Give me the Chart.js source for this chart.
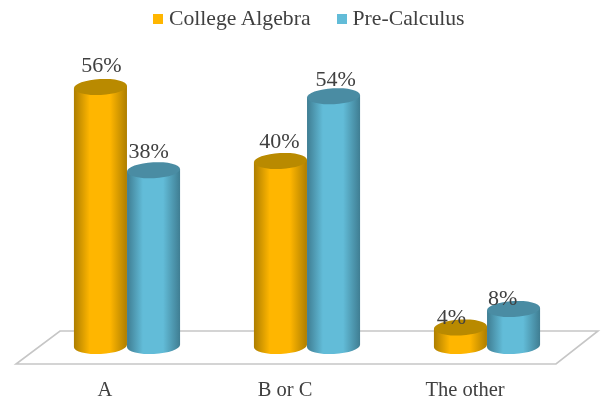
<!DOCTYPE html>
<html>
<head>
<meta charset="utf-8">
<title>Course placement</title>
<script src="https://cdn.jsdelivr.net/npm/chart.js@4"></script>
<style>
  html, body { margin: 0; padding: 0; background: #fff; }
  #wrap { position: relative; width: 602px; height: 400px; overflow: hidden; }
  #leyenda {
    position: absolute; left: 153px; top: 6px; display: flex; align-items: center;
    font: 21.7px "Liberation Serif", serif; color: #404040; white-space: nowrap;
  }
  #leyenda span.caja { width: 10px; height: 10px; margin-right: 6px; display: inline-block; }
  #leyenda span.texto { margin-right: 26px; }
</style>
</head>
<body>
<div id="wrap">
  <div id="leyenda"></div>
  <canvas id="grafica" width="602" height="400"></canvas>
</div>
<script>
const categorias = ["A", "B or C", "The other"];
const nombres = ["College Algebra", "Pre-Calculus"];
const collegeAlgebra = [56, 40, 4];
const preCalculus = [38, 54, 8];

// colours per series: main, edge of the body, lid
const colores = [
  { main: "#ffb600", borde: "#ad7e00", tapa: "#b98a00" },
  { main: "#62bcd8", borde: "#3f7d92", tapa: "#4a8ca3" }
];

// hand placement of the % labels, they sit off the bar centre
const corrimientoX = [[1, -1, -9], [-5, 2, -11]];
const corrimientoY = [[-21, -19, -9], [-18, -16, -10]];

const RADIO_Y = 8;
const GIRO = -0.05;

function dibujarPiso(chart) {
  const { ctx, chartArea: a } = chart;
  ctx.save();
  ctx.beginPath();
  ctx.moveTo(a.left - 21, a.bottom + 18);
  ctx.lineTo(a.right - 21, a.bottom + 18);
  ctx.lineTo(a.right + 21, a.bottom - 15);
  ctx.lineTo(a.left + 23, a.bottom - 15);
  ctx.closePath();
  ctx.strokeStyle = "#c6c6c6";
  ctx.lineWidth = 1.6;
  ctx.stroke();
  ctx.restore();
}

function dibujarCilindro(ctx, barra, color) {
  const cx = barra.x, rx = barra.width / 2;
  const arriba = barra.y, abajo = barra.base;
  const dx = rx * Math.cos(GIRO), dy = rx * Math.sin(GIRO);

  const grad = ctx.createLinearGradient(cx - rx, 0, cx + rx, 0);
  grad.addColorStop(0, color.borde);
  grad.addColorStop(0.3, color.main);
  grad.addColorStop(0.68, color.main);
  grad.addColorStop(1, color.borde);

  ctx.beginPath();
  ctx.moveTo(cx - dx, arriba - dy);
  ctx.lineTo(cx - dx, abajo - dy);
  ctx.ellipse(cx, abajo, rx, RADIO_Y, GIRO, Math.PI, 0, true);
  ctx.lineTo(cx + dx, arriba + dy);
  ctx.closePath();
  ctx.fillStyle = grad;
  ctx.fill();

  ctx.beginPath();
  ctx.ellipse(cx, arriba, rx, RADIO_Y, GIRO, 0, Math.PI * 2);
  ctx.fillStyle = color.tapa;
  ctx.fill();
}

// the default rectangles are replaced by cylinders at the same coordinates
const cilindros = {
  id: "cilindros",
  beforeDatasetsDraw(chart) {
    dibujarPiso(chart);
  },
  beforeDatasetDraw(chart, args) {
    const { ctx } = chart;
    ctx.save();
    args.meta.data.forEach(barra => dibujarCilindro(ctx, barra, colores[args.index]));
    ctx.restore();
    return false;
  },
  afterDatasetsDraw(chart) {
    const { ctx } = chart;
    ctx.save();
    ctx.font = '22px "Liberation Serif", serif';
    ctx.fillStyle = "#404040";
    ctx.textAlign = "center";
    ctx.textBaseline = "middle";
    chart.data.datasets.forEach((ds, i) => {
      chart.getDatasetMeta(i).data.forEach((barra, j) => {
        ctx.fillText(ds.data[j] + "%", barra.x + corrimientoX[i][j], barra.y + corrimientoY[i][j]);
      });
    });
    ctx.restore();
  }
};

function armarLeyenda() {
  const leyenda = document.getElementById("leyenda");
  nombres.forEach((nombre, i) => {
    const caja = document.createElement("span");
    caja.className = "caja";
    caja.style.background = colores[i].main;
    const texto = document.createElement("span");
    texto.className = "texto";
    texto.textContent = nombre;
    leyenda.appendChild(caja);
    leyenda.appendChild(texto);
  });
}

armarLeyenda();

new Chart(document.getElementById("grafica").getContext("2d"), {
  type: "bar",
  data: {
    labels: categorias,
    datasets: [
      { label: nombres[0], data: collegeAlgebra, backgroundColor: colores[0].main },
      { label: nombres[1], data: preCalculus, backgroundColor: colores[1].main }
    ]
  },
  options: {
    responsive: false,
    animation: false,
    layout: { padding: { left: 37, right: 25, top: 68.5, bottom: 0 } },
    plugins: { legend: { display: false }, tooltip: { enabled: false } },
    scales: {
      x: {
        grid: { display: false },
        border: { display: false },
        afterFit(escala) { escala.height = 54; },
        ticks: {
          padding: 24,
          labelOffset: -22,
          maxRotation: 0,
          color: "#404040",
          font: { family: '"Liberation Serif", serif', size: 20.5 }
        }
      },
      y: { display: false, min: 0, max: 60 }
    },
    datasets: { bar: { categoryPercentage: 0.59, barPercentage: 1 } }
  },
  plugins: [cilindros]
});
</script>
</body>
</html>
